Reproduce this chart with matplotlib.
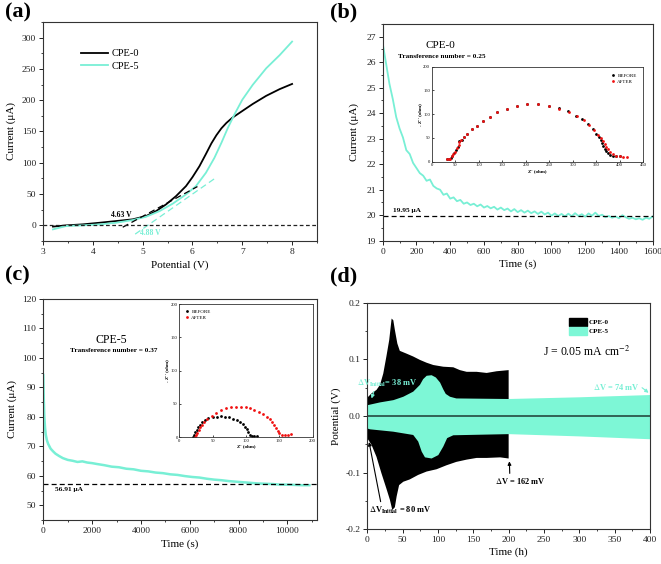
import matplotlib
matplotlib.use("Agg")
import matplotlib.pyplot as plt
import numpy as np
from matplotlib.ticker import MultipleLocator, FormatStrFormatter
from matplotlib.patches import Patch

plt.rcParams['font.family'] = ['Liberation Serif', 'DejaVu Serif']
plt.rcParams['mathtext.fontset'] = 'stix'
plt.rcParams['axes.unicode_minus'] = False

CYAN = '#78EFD5'
CYAN_FILL = '#7DF7D6'

# ---------------- Panel (a) data ----------------
a_x0 = [3.2, 3.47, 3.8, 4.14, 4.47, 4.8, 5.07, 5.27, 5.47, 5.67, 5.87, 6.0, 6.14, 6.27, 6.38, 6.48, 6.58, 6.68, 6.8, 6.94, 7.21, 7.48, 7.75, 8.0]
a_y0 = [-2, 0, 1.6, 4.2, 6.9, 9.6, 14.9, 22.8, 33.5, 46.7, 62.7, 77, 94.5, 114, 131, 144, 155, 163.6, 172, 179.5, 194, 207, 217.7, 226]
a_x5 = [3.2, 3.47, 3.8, 4.14, 4.47, 4.8, 5.07, 5.34, 5.61, 5.87, 6.07, 6.27, 6.44, 6.58, 6.71, 6.84, 7.0, 7.21, 7.48, 7.75, 8.0]
a_y5 = [-6.4, -1, 0, 1.6, 4.2, 8.5, 13.8, 22.8, 35, 49.4, 62.7, 84, 107.8, 131.7, 155.6, 176.8, 200.7, 224.6, 251, 272, 293.7]
a_tan0_x = [4.6, 6.1]
a_tan0_y = [-3, 62]
a_tan5_x = [4.85, 6.45]
a_tan5_y = [-14, 75]
a_onset = ["4.63 V", "4.88 V"]

# ---------------- Panel (b) data ----------------
b_t = [0, 20, 40, 60, 80, 100, 120, 140, 160, 180, 200, 220, 240, 260, 280, 300, 320, 340, 360, 380,
       400, 420, 440, 460, 480, 500, 520, 540, 560, 580, 600, 620, 640, 660, 680, 700, 720, 740, 760, 780,
       800, 820, 840, 860, 880, 900, 920, 940, 960, 980, 1000, 1020, 1040, 1060, 1080, 1100, 1120, 1140, 1160, 1180,
       1200, 1220, 1240, 1260, 1280, 1300, 1320, 1340, 1360, 1380, 1400, 1420, 1440, 1460, 1480, 1500, 1520, 1540, 1560, 1580, 1600]
b_i = [26.75, 25.95, 25.15, 24.55, 23.85, 23.40, 23.05, 22.55, 22.40, 22.05, 21.85, 21.65, 21.55, 21.35, 21.40, 21.15, 21.05, 21.00, 20.80, 20.85,
       20.65, 20.70, 20.55, 20.60, 20.45, 20.50, 20.40, 20.45, 20.35, 20.42, 20.30, 20.36, 20.27, 20.33, 20.22, 20.30, 20.20, 20.26, 20.15, 20.24,
       20.12, 20.20, 20.10, 20.18, 20.08, 20.15, 20.05, 20.14, 20.03, 20.10, 19.98, 20.07, 19.97, 20.05, 19.95, 20.06, 19.96, 20.08, 19.97, 20.04,
       19.94, 20.07, 19.98, 20.10, 19.97, 20.02, 19.92, 19.97, 19.90, 19.95, 19.88, 20.00, 19.92, 19.86, 19.90, 19.84, 19.88, 19.82, 19.90, 19.86, 19.95]
b_steady = 19.95

bi_before_x = [32, 36, 40, 44, 48, 52, 55, 57, 64, 68, 76, 86, 96, 109, 123, 139, 160, 181, 202, 225, 249, 270, 290, 307, 320,
               332, 342, 350, 355, 359, 362, 365, 368, 371, 375, 380, 386, 393, 400]
bi_before_y = [5, 6, 8, 12, 18, 24, 30, 44, 45, 52, 59, 68, 76, 86, 95, 104, 112, 118, 121, 121, 118, 113, 106, 97, 89,
               79, 69, 59, 52, 45, 39, 33, 27, 22, 18, 15, 13, 11, 11]
bi_after_x = [32, 36, 39, 43, 46, 50, 54, 57, 59, 62, 68, 76, 86, 96, 109, 123, 139, 160, 181, 202, 225, 249, 270, 291, 309,
              323, 335, 345, 354, 360, 364, 368, 371, 375, 380, 386, 393, 400, 407, 416]
bi_after_y = [6, 6, 6, 11, 16, 21, 29, 35, 41, 46, 52, 59, 68, 76, 86, 95, 104, 112, 118, 121, 121, 118, 112, 105, 96,
              88, 77, 66, 57, 49, 43, 38, 32, 26, 21, 16, 13, 11, 9, 9]

# ---------------- Panel (c) data ----------------
c_t = [0, 20, 40, 70, 100, 150, 200, 300, 400, 500, 650, 800, 1000, 1200, 1400, 1600, 1800, 2000, 2200, 2500,
       2800, 3100, 3400, 3700, 4000, 4300, 4600, 4900, 5200, 5500, 5800, 6100, 6400, 6700, 7000, 7300, 7600, 7900, 8200, 8500,
       8800, 9100, 9400, 9700, 10000, 10300, 10600, 10900]
c_i = [94.2, 86, 80.5, 76.5, 74, 72, 70.8, 69.2, 68.3, 67.5, 66.7, 66.0, 65.4, 65.1, 64.7, 64.9, 64.5, 64.3, 64.0, 63.6,
       63.1, 62.9, 62.4, 62.2, 61.7, 61.5, 61.1, 60.9, 60.5, 60.3, 59.9, 59.6, 59.4, 59.0, 58.7, 58.5, 58.2, 58.0, 57.8, 57.6,
       57.4, 57.3, 57.2, 57.0, 57.0, 56.9, 56.8, 56.8]
c_steady = 57.1

ci_before_x = [20, 22, 24, 26, 28.5, 31, 34.5, 38.5, 43.5, 50, 56, 62.5, 68.5, 75, 81, 86, 91, 95, 98.5, 101, 103.5, 106, 108.5, 112, 116]
ci_before_y = [0, 4, 7.5, 11, 15, 18.5, 22.5, 26, 28.5, 30, 30.5, 31.5, 31, 30, 28, 26, 23.5, 20, 16, 12, 7.5, 4, 1.5, 1.5, 2.5]
ci_after_x = [23.5, 25, 27, 29, 31, 33.5, 37, 42, 48.5, 55, 62, 69.5, 77, 84.5, 92, 99.5, 106, 112.5, 119.5, 126, 132, 136,
              139.5, 142.5, 145, 147.5, 150, 153.5, 158.5, 163.5, 167.5]
ci_after_y = [0, 3.5, 7, 11, 15, 19, 23, 27.5, 32.5, 37, 41, 43.5, 45, 46, 46, 45, 43.5, 41, 38, 34.5, 30.5, 27, 22.5,
              18.5, 14, 10, 6.5, 4, 3.5, 4, 5]

# ---------------- Panel (d) data ----------------
d0_up_t = [0, 1.4, 6, 13, 18, 22.6, 27, 31, 34.4, 36.8, 39, 42.5, 46, 55.7, 65, 74.5, 84, 93.4, 107.5, 121.7, 131, 140.6, 154.7, 168.9, 183, 200]
d0_up_v = [0.034, 0.034, 0.040, 0.046, 0.055, 0.075, 0.105, 0.134, 0.172, 0.169, 0.152, 0.128, 0.115, 0.110, 0.105, 0.099, 0.094, 0.090,
           0.087, 0.086, 0.081, 0.078, 0.078, 0.076, 0.079, 0.081]
d0_lo_t = [0, 1.4, 6, 13, 20, 27, 32, 35.4, 39, 41.5, 45, 51, 60, 72, 84, 98, 112, 126, 140.6, 154.7, 169, 188, 200]
d0_lo_v = [-0.040, -0.042, -0.051, -0.072, -0.101, -0.128, -0.148, -0.166, -0.161, -0.142, -0.122, -0.116, -0.112, -0.104, -0.098,
           -0.094, -0.087, -0.081, -0.077, -0.074, -0.074, -0.073, -0.075]
d5_up_t = [0, 18, 37, 51, 65, 74.5, 79, 84, 91, 97, 103, 107.5, 111, 117, 126, 200, 300, 400]
d5_up_v = [0.019, 0.024, 0.028, 0.034, 0.043, 0.055, 0.065, 0.071, 0.072, 0.068, 0.059, 0.047, 0.039, 0.034, 0.031, 0.030, 0.033, 0.037]
d5_lo_t = [0, 3.8, 36.8, 65, 72, 77, 81.6, 91, 100.5, 107.5, 113, 121.7, 200, 300, 400]
d5_lo_v = [-0.022, -0.0235, -0.0277, -0.0335, -0.045, -0.063, -0.073, -0.075, -0.069, -0.054, -0.039, -0.034, -0.032, -0.036, -0.041]

fig = plt.figure(figsize=(6.61, 5.64), dpi=100)
W, H = 661.0, 564.0


def box(l, t, r, b):
    return [l / W, 1 - b / H, (r - l) / W, (b - t) / H]


def style(ax, ls=6.8, lw=0.8):
    for s in ax.spines.values():
        s.set_linewidth(lw)
        s.set_color('#333333')
    ax.tick_params(which='major', direction='out', length=3, width=0.7, labelsize=ls, pad=2, colors='#222222')
    ax.tick_params(which='minor', direction='out', length=1.6, width=0.6, colors='#222222')
    ax.tick_params(top=False, right=False)


# ---------- (a) ----------
axa = fig.add_axes(box(43, 22, 317, 241))
axa.plot(a_x0, a_y0, color='black', lw=1.3, label='CPE-0')
axa.plot(a_x5, a_y5, color=CYAN, lw=1.3, label='CPE-5')
axa.plot(a_tan0_x, a_tan0_y, color='black', lw=0.9, ls=(0, (5, 3)))
axa.plot(a_tan5_x, a_tan5_y, color=CYAN, lw=0.9, ls=(0, (5, 3)))
axa.axhline(0, color='#222222', lw=0.9, ls=(0, (3, 2)))
axa.text(4.57, 16, a_onset[0], fontsize=5.5, fontweight='bold', ha='center', va='center', color='black')
axa.text(5.15, -12, a_onset[1], fontsize=5.5, fontweight='bold', ha='center', va='center', color=CYAN)
axa.set_xlim(3, 8.5)
axa.set_ylim(-25, 325)
axa.xaxis.set_major_locator(MultipleLocator(1))
axa.xaxis.set_minor_locator(MultipleLocator(0.5))
axa.yaxis.set_major_locator(MultipleLocator(50))
axa.yaxis.set_minor_locator(MultipleLocator(25))
axa.set_xlabel('Potential (V)', fontsize=8, labelpad=3)
axa.set_ylabel('Current (μA)', fontsize=8, labelpad=4)
axa.legend(loc='upper left', bbox_to_anchor=(0.12, 0.9), frameon=False, fontsize=7.5,
           handlelength=2.6, handletextpad=0.3, labelspacing=0.3, borderpad=0)
style(axa)

# ---------- (b) ----------
axb = fig.add_axes(box(382.7, 24, 652.7, 240.7))
axb.plot(b_t, b_i, color=CYAN, lw=1.3)
axb.axhline(b_steady, color='black', lw=0.9, ls=(0, (4, 2.5)))
axb.text(60, b_steady + 0.12, '19.95 μA', fontsize=5.3, fontweight='bold', ha='left', va='bottom')
axb.text(340, 26.67, 'CPE-0', fontsize=8, ha='center', va='center')
axb.text(350, 26.24, 'Transference number = 0.25', fontsize=5.2, fontweight='bold', ha='center', va='center')
axb.set_xlim(0, 1600)
axb.set_ylim(19, 27.5)
axb.xaxis.set_major_locator(MultipleLocator(200))
axb.xaxis.set_minor_locator(MultipleLocator(100))
axb.yaxis.set_major_locator(MultipleLocator(1))
axb.yaxis.set_minor_locator(MultipleLocator(0.5))
axb.set_xlabel('Time (s)', fontsize=8, labelpad=3)
axb.set_ylabel('Current (μA)', fontsize=8, labelpad=5)
style(axb)


def inset(rect, bx, by, ax_x, ay, xmax, xstep):
    ai = fig.add_axes(rect)
    ai.plot(bx, by, 'o', color='black', ms=2.0, mew=0, label='BEFORE')
    ai.plot(ax_x, ay, 'o', color='#F01010', ms=2.0, mew=0, label='AFTER')
    ai.set_xlim(0, xmax)
    ai.set_ylim(0, 200)
    ai.xaxis.set_major_locator(MultipleLocator(xstep))
    ai.yaxis.set_major_locator(MultipleLocator(50))
    for s in ai.spines.values():
        s.set_linewidth(0.6)
        s.set_color('#333333')
    ai.tick_params(direction='in', length=1.5, width=0.5, labelsize=3.3, pad=1.2)
    ai.set_xlabel("Z' (ohm)", fontsize=3.5, fontweight='bold', labelpad=1)
    ai.set_ylabel("- Z'' (ohm)", fontsize=3.5, fontweight='bold', labelpad=1)
    return ai


aib = inset(box(431.7, 66.7, 643.3, 161.7), bi_before_x, bi_before_y, bi_after_x, bi_after_y, 450, 50)
aib.legend(loc='upper right', frameon=False, fontsize=3.6, handlelength=1, handletextpad=0.3,
           labelspacing=0.3, borderpad=0.8, markerscale=1.0)

# ---------- (c) ----------
axc = fig.add_axes(box(43.3, 299, 316.7, 520))
axc.plot(c_t, c_i, color=CYAN, lw=1.8)
axc.axhline(c_steady, color='black', lw=0.9, ls=(0, (4, 2.5)))
axc.text(480, c_steady - 0.8, '56.91 μA', fontsize=5.3, fontweight='bold', ha='left', va='top')
axc.text(2800, 106, 'CPE-5', fontsize=8.5, ha='center', va='center')
axc.text(2870, 102.4, 'Transference number = 0.37', fontsize=5.2, fontweight='bold', ha='center', va='center')
axc.set_xlim(0, 11200)
axc.set_ylim(45, 120)
axc.xaxis.set_major_locator(MultipleLocator(2000))
axc.xaxis.set_minor_locator(MultipleLocator(1000))
axc.yaxis.set_major_locator(MultipleLocator(10))
axc.yaxis.set_minor_locator(MultipleLocator(5))
axc.set_xlabel('Time (s)', fontsize=8, labelpad=3)
axc.set_ylabel('Current (μA)', fontsize=8, labelpad=4)
style(axc)

aic = inset(box(179.3, 304, 312.7, 437.3), ci_before_x, ci_before_y, ci_after_x, ci_after_y, 200, 50)
aic.legend(loc='upper left', frameon=False, fontsize=3.6, handlelength=1, handletextpad=0.3,
           labelspacing=0.3, borderpad=0.6)

# ---------- (d) ----------
axd = fig.add_axes(box(367.3, 302.7, 650, 529.3))
axd.fill(np.concatenate([d0_up_t, d0_lo_t[::-1]]), np.concatenate([d0_up_v, d0_lo_v[::-1]]),
         color='black', lw=0, label='CPE-0')
axd.fill(np.concatenate([d5_up_t, d5_lo_t[::-1]]), np.concatenate([d5_up_v, d5_lo_v[::-1]]),
         color=CYAN_FILL, lw=0, label='CPE-5')
axd.axhline(0, color='#1d3a33', lw=1.1)
axd.set_xlim(0, 400)
axd.set_ylim(-0.2, 0.2)
axd.xaxis.set_major_locator(MultipleLocator(50))
axd.xaxis.set_minor_locator(MultipleLocator(25))
axd.yaxis.set_major_locator(MultipleLocator(0.1))
axd.yaxis.set_minor_locator(MultipleLocator(0.05))
axd.yaxis.set_major_formatter(FormatStrFormatter('%.1f'))
axd.set_xlabel('Time (h)', fontsize=8, labelpad=2)
axd.set_ylabel('Potential (V)', fontsize=8, labelpad=3)
style(axd)
axd.legend(handles=[Patch(color='black', label='CPE-0'), Patch(color=CYAN_FILL, label='CPE-5')],
           loc='upper left', bbox_to_anchor=(0.7, 0.95), frameon=False,
           handlelength=2.6, handleheight=1.5, handletextpad=0.3, labelspacing=0.1, borderpad=0,
           prop={'weight': 'bold', 'size': 5})
axd.text(311, 0.113, r'J = 0.05 mA cm$^{-2}$', fontsize=8.5, ha='center', va='center')

axd.annotate(r'$\Delta$V$_{\mathbf{Initial}}$= 38 mV', xy=(6, 0.031), xytext=(-15, 0.058),
             fontsize=6, fontweight='bold', color=CYAN, ha='left', va='center', annotation_clip=False,
             arrowprops=dict(arrowstyle='-|>', color=CYAN, lw=0.8, mutation_scale=5, shrinkA=0, shrinkB=0,
                             relpos=(0.3, 0.0)))
axd.annotate(r'$\Delta$V = 74 mV', xy=(398, 0.041), xytext=(352, 0.052),
             fontsize=6, fontweight='bold', color=CYAN, ha='center', va='center',
             arrowprops=dict(arrowstyle='-|>', color=CYAN, lw=0.8, mutation_scale=5, shrinkA=0, shrinkB=0,
                             relpos=(1.0, 0.6)))
axd.annotate(r'$\Delta$V = 162 mV', xy=(201, -0.08), xytext=(216, -0.115),
             fontsize=6, fontweight='bold', color='black', ha='center', va='center',
             arrowprops=dict(arrowstyle='-|>', color='black', lw=0.8, mutation_scale=5, shrinkA=0, shrinkB=0,
                             relpos=(0.3, 1.0)))
axd.annotate(r'$\Delta$V$_{\mathbf{Initial}}$ = 80 mV', xy=(2.5, -0.046), xytext=(2, -0.166),
             fontsize=6, fontweight='bold', color='black', ha='left', va='center',
             arrowprops=dict(arrowstyle='-|>', color='black', lw=0.8, mutation_scale=5, shrinkA=0, shrinkB=0,
                             relpos=(0.2, 1.0)))

# panel labels
for lab, x, y in [('(a)', 5, 2), ('(b)', 330, 2), ('(c)', 5, 265), ('(d)', 330, 266)]:
    fig.text(x / W, 1 - y / H, lab, fontsize=16, fontweight='bold', ha='left', va='top')

fig.savefig('out.png', dpi=100)
